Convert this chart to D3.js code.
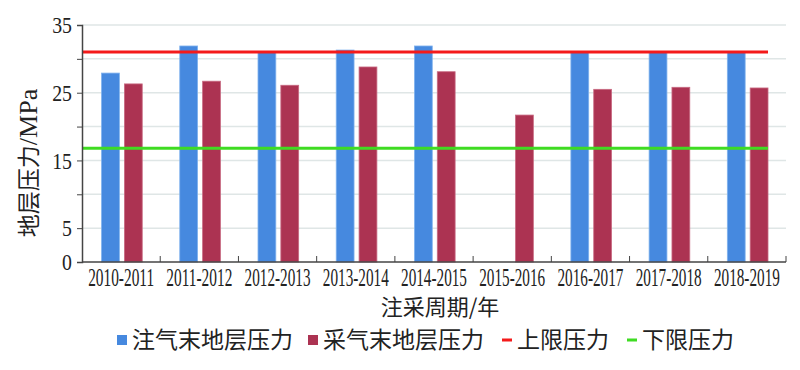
<!DOCTYPE html>
<html>
<head>
<meta charset="utf-8">
<script src="https://cdn.jsdelivr.net/npm/d3@7"></script>
<style>
  body { margin: 0; background: #fff; }
  svg { display: block; }
</style>
</head>
<body>
<div id="chart"></div>
<script>
// injection / production cycles
var cycles = ['2010-2011', '2011-2012', '2012-2013', '2013-2014', '2014-2015',
              '2015-2016', '2016-2017', '2017-2018', '2018-2019']
// formation pressure at end of injection (MPa), no value for 2015-2016
var injEnd = [27.9, 31.9, 31.0, 31.3, 31.9, null, 31.0, 31.0, 31.0]
// formation pressure at end of production (MPa)
var prodEnd = [26.3, 26.7, 26.1, 28.8, 28.1, 21.7, 25.5, 25.8, 25.7]
var upperLimit = 31
var lowerLimit = 16.8
var yTicks = [0, 5, 10, 15, 20, 25, 30, 35]
var yLabelled = [0, 5, 15, 25, 35]
var seriesNames = ['注气末地层压力', '采气末地层压力', '上限压力', '下限压力']

var width = 800, height = 370
var plotLeft = 82, plotRight = 786, plotTop = 25, plotBottom = 262
var cnFont = '"Noto Sans CJK SC", sans-serif'
var numFont = '"Liberation Serif", "DejaVu Serif", serif'

var svg = d3.select('#chart').append('svg')
    .attr('width', width)
    .attr('height', height)

var x0 = d3.scaleBand().domain(cycles).range([plotLeft, plotRight]).padding(0)
var bw = x0.bandwidth()
var x1 = d3.scaleBand().domain(['inj', 'prod'])
    .range([bw * 0.25, bw * 0.77])
    .paddingInner(0.22)
var y = d3.scaleLinear().domain([0, 35]).range([plotBottom, plotTop])

// grid lines
svg.append('g')
    .selectAll('line')
    .data(yTicks.filter(function (d) { return d > 0 }))
    .enter()
    .append('line')
    .attr('x1', plotLeft).attr('x2', plotRight)
    .attr('y1', function (d) { return y(d) }).attr('y2', function (d) { return y(d) })
    .attr('stroke', '#dfe6e6')
    .attr('stroke-width', 1.5)

// bars
var groups = svg.append('g')
    .selectAll('g')
    .data(cycles)
    .enter()
    .append('g')
    .attr('transform', function (d) { return 'translate(' + x0(d) + ',0)' })

groups.filter(function (d, i) { return injEnd[i] !== null })
    .append('rect')
    .attr('x', x1('inj'))
    .attr('width', x1.bandwidth())
    .attr('y', function (d) { return y(injEnd[cycles.indexOf(d)]) })
    .attr('height', function (d) { return plotBottom - y(injEnd[cycles.indexOf(d)]) })
    .attr('fill', '#4689df')
    .attr('stroke', '#7fb2ee')
    .attr('stroke-width', 0.8)

groups.append('rect')
    .attr('x', x1('prod'))
    .attr('width', x1.bandwidth())
    .attr('y', function (d, i) { return y(prodEnd[i]) })
    .attr('height', function (d, i) { return plotBottom - y(prodEnd[i]) })
    .attr('fill', '#ac3352')
    .attr('stroke', '#c86a82')
    .attr('stroke-width', 0.8)

// limit lines
var lineEnd = x0(cycles[cycles.length - 1]) + x1('prod') + x1.bandwidth()
svg.append('line')
    .attr('x1', plotLeft).attr('x2', lineEnd)
    .attr('y1', y(upperLimit)).attr('y2', y(upperLimit))
    .attr('stroke', '#f41a1a')
    .attr('stroke-width', 3)
svg.append('line')
    .attr('x1', plotLeft).attr('x2', lineEnd)
    .attr('y1', y(lowerLimit)).attr('y2', y(lowerLimit))
    .attr('stroke', '#3fdc22')
    .attr('stroke-width', 3)

// y axis
var yAxis = d3.axisLeft(y)
    .tickValues(yTicks)
    .tickSize(5)
    .tickFormat(function (d) { return yLabelled.indexOf(d) >= 0 ? d : '' })
var gy = svg.append('g')
    .attr('transform', 'translate(' + plotLeft + ',0)')
    .call(yAxis)
gy.select('.domain').attr('stroke', '#444').attr('stroke-width', 1.5)
gy.selectAll('.tick line').attr('stroke', '#444')
// condensed numbers
gy.selectAll('.tick text')
    .attr('x', -10 / 0.86)
    .attr('dy', '0.34em')
    .attr('font-family', numFont)
    .attr('font-size', 23)
    .attr('fill', '#222')
    .attr('transform', 'scale(0.86,1)')

// x axis, ticks at category boundaries pointing up
var gx = svg.append('g').attr('transform', 'translate(0,' + plotBottom + ')')
gx.append('line')
    .attr('x1', plotLeft).attr('x2', plotRight)
    .attr('stroke', '#444').attr('stroke-width', 1.5)
gx.selectAll('.bound')
    .data(cycles.slice(1).concat(['end']))
    .enter()
    .append('line')
    .attr('class', 'bound')
    .attr('x1', function (d) { return d === 'end' ? plotRight : x0(d) })
    .attr('x2', function (d) { return d === 'end' ? plotRight : x0(d) })
    .attr('y1', 0).attr('y2', -6)
    .attr('stroke', '#444')
// labels are squeezed to 66px wide like the condensed font of the original
gx.selectAll('.lab')
    .data(cycles)
    .enter()
    .append('text')
    .attr('class', 'lab')
    .attr('text-anchor', 'middle')
    .attr('font-family', numFont)
    .attr('font-size', 25)
    .attr('fill', '#222')
    .text(function (d) { return d })
    .attr('transform', function (d) {
        var k = 66 / this.getComputedTextLength()
        return 'translate(' + (x0(d) + bw / 2) + ',24) scale(' + k + ',1)'
    })

// axis titles
svg.append('text')
    .attr('x', (plotLeft + plotRight) / 2 + 6)
    .attr('y', 315)
    .attr('text-anchor', 'middle')
    .attr('font-family', cnFont)
    .attr('font-size', 22)
    .attr('fill', '#222')
    .text('注采周期/年')

var yTitle = svg.append('text')
    .attr('transform', 'translate(37,163) rotate(-90)')
    .attr('text-anchor', 'middle')
    .attr('fill', '#222')
yTitle.append('tspan')
    .attr('font-family', cnFont)
    .attr('font-size', 23)
    .text('地层压力')
yTitle.append('tspan')
    .attr('font-family', numFont)
    .attr('font-size', 26)
    .text('/MPa')

// legend
var legendX = [117, 308, 502, 627]
var legendColor = ['#4689df', '#ac3352', '#f41a1a', '#3fdc22']
var leg = svg.append('g')
    .selectAll('g')
    .data(seriesNames)
    .enter()
    .append('g')
    .attr('transform', function (d, i) { return 'translate(' + legendX[i] + ',340)' })
leg.append('rect')
    .attr('x', 0)
    .attr('y', function (d, i) { return i < 2 ? -5 : -1.5 })
    .attr('width', 10)
    .attr('height', function (d, i) { return i < 2 ? 10 : 3 })
    .attr('fill', function (d, i) { return legendColor[i] })
leg.append('text')
    .attr('x', 15)
    .attr('y', 0)
    .attr('dy', '0.36em')
    .attr('font-family', cnFont)
    .attr('font-size', 23)
    .attr('fill', '#222')
    .text(function (d) { return d })
</script>
</body>
</html>
